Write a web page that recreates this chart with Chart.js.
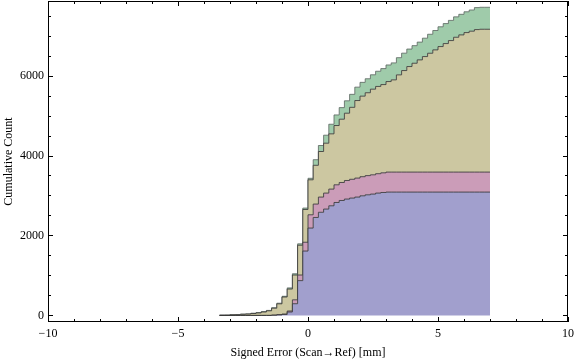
<!DOCTYPE html>
<html>
  <head>
    <title>Cumulative count</title>
    <script src="https://cdn.jsdelivr.net/npm/chart.js"></script>
    <style>
      html, body { margin: 0; padding: 0; background: #fff; }
    </style>
  </head>
  <body>
    <canvas id="myChart" width="576" height="362"></canvas>
    <script>
      'use strict'
      // left edges of the 0.2 mm bins, last bin ends at binEnd
      const binEdges = [-3.4, -3.2, -3.0, -2.8, -2.6, -2.4, -2.2, -2.0, -1.8, -1.6,
        -1.4, -1.2, -1.0, -0.8, -0.6, -0.4, -0.2, 0, 0.2, 0.4,
        0.6, 0.8, 1.0, 1.2, 1.4, 1.6, 1.8, 2.0, 2.2, 2.4,
        2.6, 2.8, 3.0, 3.2, 3.4, 3.6, 3.8, 4.0, 4.2, 4.4,
        4.6, 4.8, 5.0, 5.2, 5.4, 5.6, 5.8, 6.0, 6.2, 6.4,
        6.6, 6.8];
      const binEnd = 7.0;

      // cumulative counts of each group (stacked bottom to top)
      const blue = [0, 0, 0, 0, 0, 0, 0, 0, 0, 0,
        5, 12, 22, 85, 292, 870, 1610, 2185, 2450, 2580,
        2660, 2742, 2825, 2875, 2910, 2935, 2960, 2992, 3017, 3035,
        3060, 3075, 3085, 3085, 3085, 3085, 3085, 3085, 3085, 3085,
        3085, 3085, 3085, 3085, 3085, 3085, 3085, 3085, 3085, 3085,
        3085, 3085];
      const pink = [0, 0, 0, 0, 0, 0, 0, 0, 0, 0,
        3, 8, 13, 25, 98, 140, 220, 332, 335, 380,
        400, 418, 442, 450, 465, 470, 475, 478, 480, 482,
        485, 492, 500, 500, 500, 500, 500, 500, 500, 500,
        500, 500, 500, 500, 500, 500, 500, 500, 500, 500,
        500, 500];
      const olive = [4, 5, 14, 17, 28, 34, 48, 62, 85, 115,
        172, 270, 425, 550, 620, 745, 820, 875, 970, 1140,
        1248, 1382, 1483, 1583, 1683, 1800, 1940, 2015, 2073, 2142,
        2183, 2207, 2265, 2307, 2432, 2540, 2640, 2723, 2807, 2890,
        2973, 3057, 3140, 3215, 3290, 3373, 3432, 3490, 3525, 3565,
        3573, 3573];
      const green = [1, 1, 2, 2, 4, 4, 7, 8, 10, 10,
        12, 15, 18, 28, 32, 35, 35, 38, 140, 150,
        200, 240, 265, 290, 310, 325, 335, 345, 350, 360,
        380, 400, 415, 425, 430, 435, 438, 440, 445, 460,
        475, 485, 495, 500, 505, 510, 515, 520, 530, 550,
        550, 550];

      const xTicks = [-10, -5, 0, 5, 10];
      const yTicks = [0, 2000, 4000, 6000];
      const xMinor = [-9, -8, -7, -6, -4, -3, -2, -1, 1, 2, 3, 4, 6, 7, 8, 9];
      const yMinor = [500, 1000, 1500, 2500, 3000, 3500, 4500, 5000, 5500, 6500, 7000, 7500];

      const fills = ['rgb(161,159,205)', 'rgb(203,156,184)', 'rgb(204,199,161)', 'rgb(159,203,170)'];
      const edges = ['rgba(55,55,55,0.85)', 'rgba(55,55,55,0.85)', 'rgba(55,55,55,0.85)', 'rgba(90,100,95,0.8)'];

      // running sums so each layer sits on the one below
      const layers = [blue, pink, olive, green];
      const tops = [];
      let running = binEdges.map(() => 0);
      layers.forEach(layer => {
        running = running.map((v, i) => v + layer[i]);
        tops.push(running);
      });

      function toPoints(top) {
        const pts = [{ x: binEdges[0], y: 0 }];
        binEdges.forEach((e, i) => pts.push({ x: e, y: top[i] }));
        pts.push({ x: binEnd, y: top[top.length - 1] });
        return pts;
      }

      const minus = v => (v < 0 ? '\u2212' + Math.abs(v) : String(v));

      const framePlugin = {
        id: 'frame',
        afterDraw(chart) {
          const { ctx, chartArea: a, scales: { x, y } } = chart;
          ctx.save();
          ctx.strokeStyle = '#000';
          ctx.lineWidth = 1;
          ctx.strokeRect(a.left + 0.5, a.top + 0.5, a.right - a.left - 1, a.bottom - a.top - 1);
          ctx.beginPath();
          const xt = (v, len) => {
            const px = Math.round(x.getPixelForValue(v)) + 0.5;
            ctx.moveTo(px, a.bottom); ctx.lineTo(px, a.bottom - len);
            ctx.moveTo(px, a.top); ctx.lineTo(px, a.top + len);
          };
          const yt = (v, len) => {
            const py = Math.round(y.getPixelForValue(v)) + 0.5;
            ctx.moveTo(a.left, py); ctx.lineTo(a.left + len, py);
            ctx.moveTo(a.right, py); ctx.lineTo(a.right - len, py);
          };
          xTicks.forEach(v => xt(v, 5));
          xMinor.forEach(v => xt(v, 3));
          yTicks.forEach(v => yt(v, 5));
          yMinor.forEach(v => yt(v, 3));
          ctx.stroke();
          ctx.restore();
        }
      };

      const font = { family: 'Liberation Serif', size: 12 };

      new Chart(document.getElementById('myChart'), {
        type: 'line',
        data: {
          datasets: tops.map((top, i) => ({
            data: toPoints(top),
            stepped: 'before',
            fill: i === 0 ? 'origin' : '-1',
            backgroundColor: fills[i],
            borderColor: edges[i],
            borderWidth: 1,
            pointRadius: 0,
            tension: 0,
          }))
        },
        options: {
          responsive: false,
          animation: false,
          layout: { padding: { left: 0, right: 8, top: 1, bottom: 0 } },
          plugins: { legend: { display: false }, tooltip: { enabled: false } },
          scales: {
            x: {
              type: 'linear',
              min: -10,
              max: 10,
              afterBuildTicks: axis => { axis.ticks = xTicks.map(v => ({ value: v })); },
              afterFit: axis => { axis.height = 40; axis.paddingLeft = 0; axis.paddingRight = 0; },
              grid: { display: false, drawTicks: false },
              border: { display: false },
              ticks: { font, color: '#000', padding: 5, maxRotation: 0, callback: v => minus(v) },
              title: { display: true, text: 'Signed Error (Scan\u2192Ref) [mm]', font, color: '#000', padding: { top: 0, bottom: 2 } }
            },
            y: {
              type: 'linear',
              min: -165,
              max: 7865,
              afterBuildTicks: axis => { axis.ticks = yTicks.map(v => ({ value: v })); },
              afterFit: axis => { axis.width = 48; axis.paddingTop = 0; axis.paddingBottom = 0; },
              grid: { display: false, drawTicks: false },
              border: { display: false },
              ticks: { font, color: '#000', padding: 4, callback: v => minus(v) },
              title: { display: true, text: 'Cumulative Count', font, color: '#000', padding: { top: 2, bottom: 0 } }
            }
          }
        },
        plugins: [framePlugin]
      });
    </script>
  </body>
</html>
